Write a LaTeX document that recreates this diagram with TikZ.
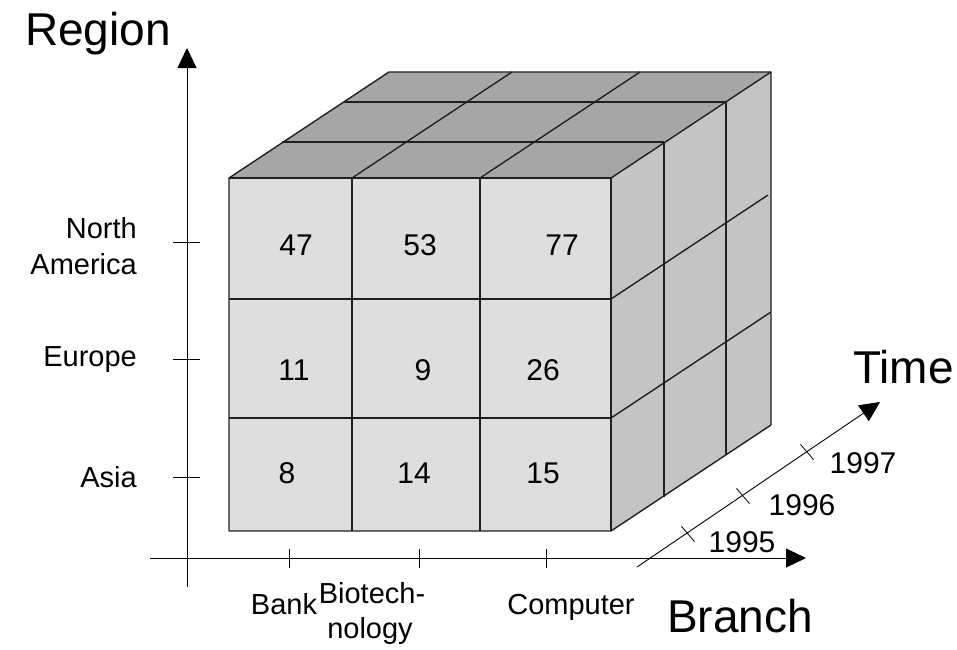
\documentclass[tikz,border=0pt]{standalone}
\usepackage{fontspec}
\setmainfont{Liberation Sans}
\usetikzlibrary{arrows.meta}
\definecolor{frontc}{HTML}{DEDEDE}
\definecolor{topc}{HTML}{A6A6A6}
\definecolor{sidec}{HTML}{C4C4C4}
\definecolor{edgec}{HTML}{231F20}
\tikzset{
  cubeline/.style={draw=edgec, line width=1.4pt, line join=round},
  axisline/.style={draw=black, line width=0.9pt},
  tickline/.style={draw=black, line width=0.8pt},
  axisarrow/.style={axisline, -{Triangle[length=20pt,width=19pt]}},
  numtxt/.style={anchor=base, inner sep=0pt, font=\fontsize{30}{36}\selectfont},
  lbltxt/.style={inner sep=0pt, font=\fontsize{29}{35}\selectfont},
  bigtxt/.style={anchor=base west, inner sep=0pt, font=\fontsize{46}{55}\selectfont}
}
\begin{document}
\begin{tikzpicture}[x=1pt,y=-1pt]
\useasboundingbox (0,0) rectangle (957,649);
% cube corners
\coordinate (F1) at (229,178);
\coordinate (F2) at (611,178);
\coordinate (F3) at (611,531);
\coordinate (F4) at (229,531);
\coordinate (B1) at (389,72);
\coordinate (B2) at (771,72);
\coordinate (B3) at (771,425);
% faces
\fill[frontc] (F1) rectangle (F3);
\fill[topc] (F1) -- (B1) -- (B2) -- (F2) -- cycle;
\fill[sidec] (F2) -- (B2) -- (B3) -- (F3) -- cycle;
% front grid
\draw[cubeline] (352,178) -- (352,531);
\draw[cubeline] (480,178) -- (480,531);
\draw[cubeline] (229,299) -- (611,299);
\draw[cubeline] (229,418) -- (611,418);
% top grid
\draw[cubeline] (352,178) -- (512,72);
\draw[cubeline] (480,178) -- (640,72);
\draw[cubeline] (282,142) -- (664,142);
\draw[cubeline] (344,102) -- (726,102);
% side grid
\draw[cubeline] (664,142) -- (664,497);
\draw[cubeline] (726,102) -- (726,455);
\draw[cubeline] (611,299) -- (768,195);
\draw[cubeline] (611,418) -- (771,312);
% outlines
\draw[cubeline] (F1) -- (B1) -- (B2) -- (B3) -- (F3) -- (F4) -- cycle;
\draw[cubeline] (F1) -- (F2) -- (F3);
\draw[cubeline] (F2) -- (B2);
% axes
\coordinate (vA) at (187,587);
\coordinate (vT) at (187,48);
\coordinate (hA) at (150,558);
\coordinate (hT) at (806,558);
\coordinate (tA) at (637,567);
\coordinate (tT) at (880,402);
\draw[axisarrow] (vA) -- (vT);
\draw[axisarrow] (hA) -- (hT);
\draw[axisarrow] (tA) -- (tT);
% ticks
\foreach \y in {242,359,477} \draw[tickline] (173,\y) -- (200,\y);
\foreach \x in {289,419,546} \draw[tickline] (\x,549) -- (\x,568);
\foreach \x/\y in {688/534,743/496,807/452}
  \draw[tickline] (\x-6.5,\y-7.6) -- (\x+6.5,\y+7.6);
% cell values
\node[numtxt] (n47) at (296,255) {47};
\node[numtxt] (n53) at (420,255) {53};
\node[numtxt] (n77) at (562,255) {77};
\node[numtxt] (n11) at (294,380) {11};
\node[numtxt] (n9)  at (423,380) {9};
\node[numtxt] (n26) at (543,380) {26};
\node[numtxt] (n8)  at (287,483) {8};
\node[numtxt] (n14) at (414,483) {14};
\node[numtxt] (n15) at (543,483) {15};
% region labels
\node[lbltxt, anchor=base east] (north) at (137,238) {North};
\node[lbltxt, anchor=base east] (america) at (137,274) {America};
\node[lbltxt, anchor=base east] (europe) at (137,366) {Europe};
\node[lbltxt, anchor=base east] (asia) at (137,487) {Asia};
% branch labels
\node[lbltxt, anchor=base] (bank) at (284,614) {Bank};
\node[lbltxt, anchor=base] (biotech) at (372,603) {Biotech-};
\node[lbltxt, anchor=base] (nology) at (370,638) {nology};
\node[lbltxt, anchor=base] (computer) at (571,614) {Computer};
% years
\node[numtxt] (y1995) at (742,552) {1995};
\node[numtxt] (y1996) at (802,515) {1996};
\node[numtxt] (y1997) at (863,473) {1997};
% axis titles
\node[bigtxt] (region) at (25,45) {Region};
\node[bigtxt] (time) at (853,383) {Time};
\node[bigtxt] (branch) at (667,632) {Branch};
\end{tikzpicture}
\end{document}
